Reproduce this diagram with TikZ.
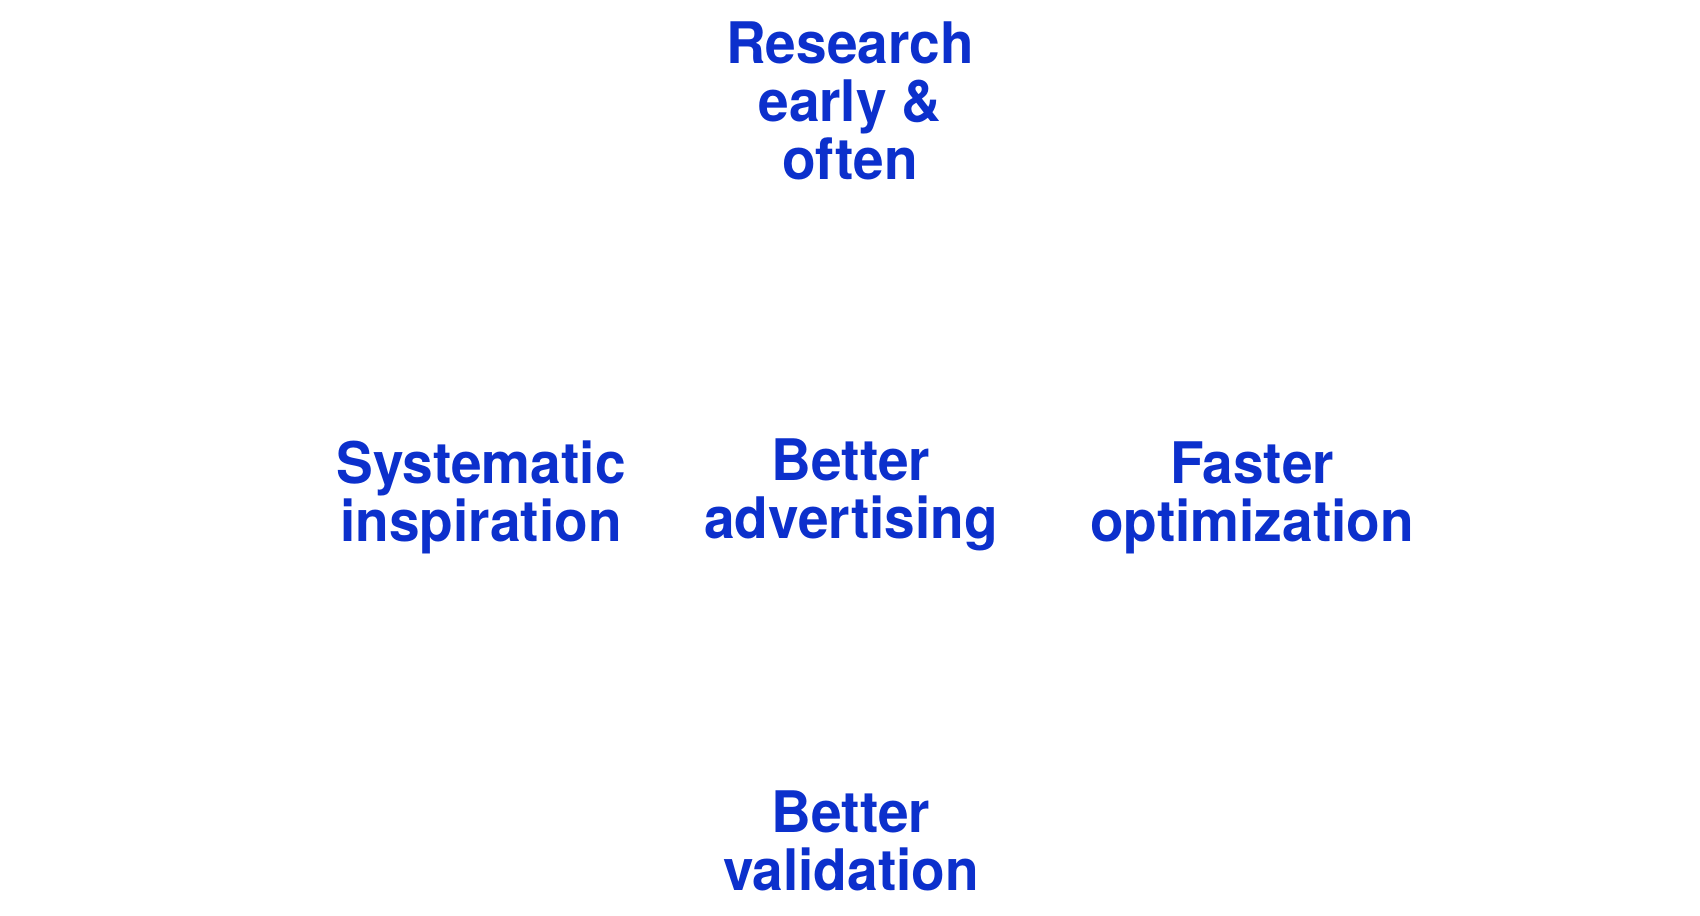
\documentclass[tikz,border=0pt]{standalone}
\usepackage{fontspec}
\newfontfamily\lblfont[FakeStretch=0.96]{TeX Gyre Heros}
\usepackage{xcolor}
\definecolor{goalblue}{RGB}{12,48,204}

\tikzset{
  goal/.style={text=goalblue, font=\lblfont\bfseries\fontsize{16.3}{16.6}\selectfont,
    align=center, inner sep=0pt, anchor=base}
}

\begin{document}
\begin{tikzpicture}

\useasboundingbox (0,0) rectangle (17,-9.16);

\node[goal] (research) at (8.50,-1.80) {Research\\early \&\\often};

\node[goal] (advert) at (8.51,-5.39) {Better\\advertising};

\node[goal] (inspire) at (4.81,-5.42) {Systematic\\inspiration};

\node[goal] (optim) at (12.52,-5.42) {Faster\\optimization};

\node[goal] (valid) at (8.51,-8.91) {Better\\validation};

\end{tikzpicture}
\end{document}
